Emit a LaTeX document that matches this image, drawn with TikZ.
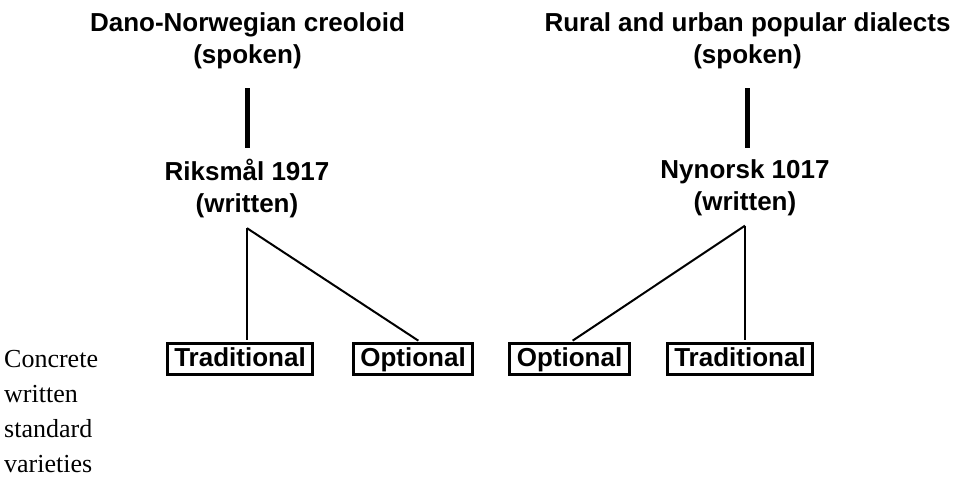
\documentclass[tikz,border=0pt]{standalone}
\usepackage{fontspec}
\setmainfont{Liberation Serif}
\setsansfont{Liberation Sans}
\usetikzlibrary{positioning}

\begin{document}
\begin{tikzpicture}[x=1pt, y=-1pt,
    langtext/.style={font=\sffamily\bfseries\fontsize{26}{32}\selectfont, align=center, inner sep=0pt, anchor=north},
    variety/.style={draw, line width=3pt, font=\sffamily\bfseries\fontsize{26}{32}\selectfont, inner xsep=7pt, inner ysep=3.5pt, text height=19.5pt, text depth=5pt},
    link/.style={line width=2pt, shorten >=2pt},
    spine/.style={line width=4.5pt, shorten <=19.5pt, shorten >=11pt}]
    \useasboundingbox (0,0) rectangle (962,477);

    % Spoken sources
    \node[langtext] (dano) at (247.5,12) {Dano-Norwegian creoloid\\(spoken)};
    \node[langtext] (rural) at (747.5,12) {Rural and urban popular dialects\\(spoken)};

    % Written norms
    \node[langtext] (riks) at (247,159) {Riksmål 1917\\(written)};
    \node[langtext] (nyn) at (745,159) {Nynorsk 1017\\(written)};
    \coordinate[below=10pt of riks] (rapex);
    \coordinate[below=10pt of nyn] (napex);

    % Concrete varieties
    \node[variety] (trad1) at (240,359) {Traditional};
    \node[variety] (opt1) at (413,359) {Optional};
    \node[variety] (opt2) at (569.5,359) {Optional};
    \node[variety] (trad2) at (740,359) {Traditional};
    \node[font=\fontsize{26}{35}\selectfont, align=left, inner sep=0pt, anchor=north west] (conc) at (4,350.5) {Concrete\\written\\standard\\varieties};

    % Lines
    \draw[spine] (dano.south) -- (dano.south |- riks.north);
    \draw[spine] (rural.south) -- (rural.south |- nyn.north);
    \draw[link] (rapex) -- (rapex |- trad1.north);
    \draw[link] (rapex) -- ([xshift=7pt]opt1.north);
    \draw[link] (napex) -- ([xshift=1.5pt]opt2.north);
    \draw[link] (napex) -- (napex |- trad2.north);
\end{tikzpicture}
\end{document}
